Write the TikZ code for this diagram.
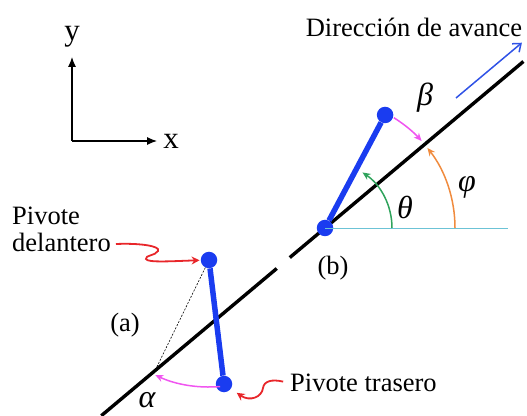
\documentclass[tikz,border=0pt]{standalone}
\usepackage{fontspec}
\setmainfont{Liberation Serif}
\usetikzlibrary{arrows.meta,calc}
\definecolor{barblue}{HTML}{1A3CF0}
\definecolor{dirblue}{HTML}{2F52E6}
\definecolor{thetagreen}{HTML}{2FA35C}
\definecolor{phiorange}{HTML}{F08B3E}
\definecolor{arcpink}{HTML}{F055F0}
\definecolor{refcyan}{HTML}{6CC3D6}
\definecolor{squigred}{HTML}{E8262A}

\begin{document}
\begin{tikzpicture}[x=1pt,y=1pt,
        pivot/.style={circle,fill=barblue,inner sep=0pt,minimum size=16.5pt},
        bar/.style={barblue,line width=5.5pt},
        lbl/.style={inner sep=1pt,font=\fontsize{26.5}{27}\selectfont},
        axlbl/.style={inner sep=1pt,font=\fontsize{31}{34}\selectfont},
        greek/.style={inner sep=1pt,font=\fontsize{32}{34}\selectfont\itshape},
        angarc/.style={line width=1.5pt,-{Stealth[length=8pt,width=7pt]}},
        squig/.style={squigred,line width=1.8pt,-{Stealth[length=8pt,width=8pt]}}]
      \useasboundingbox (0,0) rectangle (527,415);
      % axes
      \coordinate (o)    at (72,274);
      \coordinate (ytip) at (72,358);
      \coordinate (xtip) at (157,274);
      \node[axlbl] (ylbl) at (72,378) {y};
      \node[axlbl] (xlbl) at (171,274) {x};
      \draw[line width=1.1pt,-{Latex[length=10pt,width=8pt]}] (o) -- (ytip);
      \draw[line width=1.1pt,-{Latex[length=10pt,width=8pt]}] (o) -- (xtip);
      % track line
      \coordinate (hub) at (325,187);
      \coordinate (l0) at ($(hub)+(220:292)$);
      \coordinate (l1) at ($(hub)+(220:63)$);
      \coordinate (l2) at ($(hub)+(220:46)$);
      \coordinate (l3) at ($(hub)+(40:259)$);
      \draw[line width=3.4pt] (l0) -- (l1) (l2) -- (l3);
      % (a)
      \node[pivot] (fa) at (209,155) {};
      \node[pivot] (ra) at (224,31)  {};
      \coordinate (pa) at ($(fa)+(-116:127)$);
      \draw[line width=0.6pt,dash pattern=on 2pt off 1.5pt] (fa) -- (pa);
      \draw[bar] (fa) -- (ra);
      \coordinate (a0) at ($(fa)+(-85:127)$);
      \draw[angarc,arcpink] (a0) arc[start angle=-85,end angle=-115,radius=127];
      \node[greek] (alpha) at (147,15) {α};
      \node[lbl] (la) at (125,90) {(a)};
      % (b)
      \node[pivot] (rb) at (hub) {};
      \node[pivot] (fb) at ($(hub)+(62:128)$) {};
      \draw[bar] (rb) -- (fb);
      \coordinate (href) at (508,187);
      \draw[refcyan,line width=0.9pt] (rb.center) -- (href);
      \coordinate (t0) at ($(hub)+(0:67)$);
      \coordinate (p0) at ($(hub)+(0:130)$);
      \coordinate (b0) at ($(hub)+(58:130)$);
      \draw[angarc,thetagreen] (t0) arc[start angle=0,end angle=56,radius=67];
      \draw[angarc,phiorange]  (p0) arc[start angle=0,end angle=38,radius=130];
      \draw[angarc,arcpink]    (b0) arc[start angle=58,end angle=42,radius=130];
      \node[greek] (theta) at (405,208) {θ};
      \node[greek] (phi)   at (467,228) {φ};
      \node[greek] (beta)  at (425,317) {β};
      \node[lbl] (lb) at (333,147) {(b)};
      % direction
      \node[lbl] (dir) at (414,388) {Dirección de avance};
      \coordinate (d0) at (456,317);
      \coordinate (d1) at ($(d0)+(40:86)$);
      \draw[dirblue,line width=1.5pt,-{Straight Barb[length=7pt,width=11pt]}] (d0) -- (d1);
      % pivot labels
      \node[lbl,align=left,anchor=west] (ftxt) at (11,186) {Pivote\\delantero};
      \node[lbl,anchor=west] (rtxt) at (289,32) {Pivote trasero};
      \draw[squig,shorten >=1pt] (ftxt.east) ++(4,-15)
            .. controls (140,172) and (161,169) .. (158,164)
            .. controls (155,159) and (145,160) .. (146,156)
            .. controls (147,152) and (175,154) .. (fa);
      \draw[squig,shorten <=6pt,shorten >=7pt] (rtxt.west)
            .. controls (272,36) and (264,34) .. (263,27)
            .. controls (262,18) and (250,13) .. (ra);
    \end{tikzpicture}
\end{document}
